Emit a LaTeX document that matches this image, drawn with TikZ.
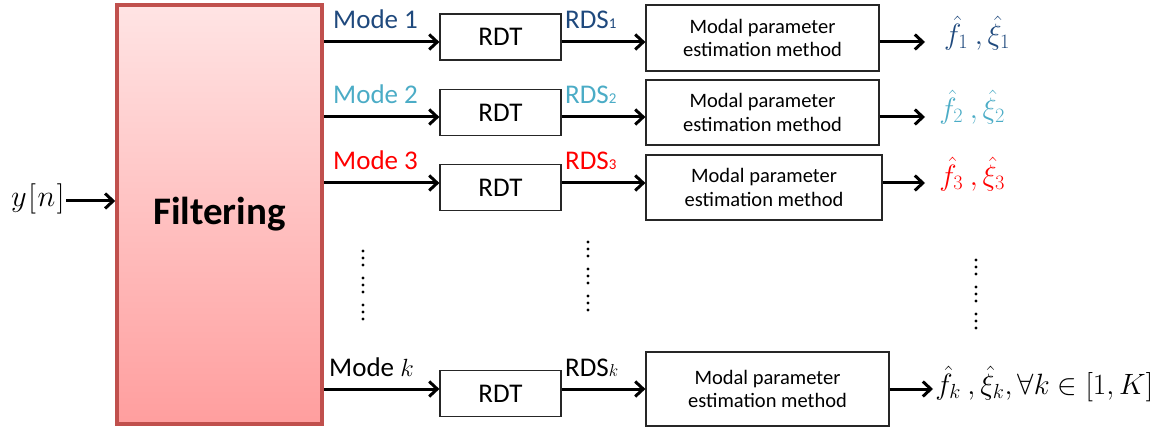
\documentclass[tikz,border=0pt]{standalone}
\usepackage{fontspec}
\setmainfont{Carlito}
\usetikzlibrary{arrows.meta}
\definecolor{dblue}{HTML}{1F497D}
\definecolor{lblue}{HTML}{4BACC6}
\definecolor{mred}{HTML}{FF0000}
\definecolor{fborder}{HTML}{C0504D}
\definecolor{ftop}{HTML}{FFE4E4}
\definecolor{fbot}{HTML}{FF9E9E}
\begin{document}
\begin{tikzpicture}[x=1pt,y=-1pt,
  arr/.style={line width=3pt,-{Straight Barb[length=8pt,width=15pt]}},
  filtbox/.style={draw=fborder,line width=3.5pt,top color=ftop,bottom color=fbot,
    minimum width=205pt,minimum height=419pt,inner sep=0pt,
    font=\fontsize{39}{42}\selectfont\bfseries},
  rdtbox/.style={draw=black!85,line width=1.2pt,minimum width=121pt,minimum height=46pt,
    inner sep=0pt,font=\fontsize{27}{30}\selectfont},
  modalbox/.style={draw=black!85,line width=1.2pt,inner sep=0pt,align=center,
    font=\fontsize{20.5}{23.5}\selectfont},
  lbl/.style={anchor=base west,inner sep=0pt,font=\fontsize{27}{30}\selectfont},
  outlbl/.style={anchor=west,inner sep=0pt,scale=1.18,font=\fontsize{24}{28}\selectfont},
  dot/.style={fill=black}
]
\useasboundingbox (0,0) rectangle (1169,427);

% filtering block
\node[filtbox] (filt) at (219.5,214.5) {Filtering};

% input
\node[anchor=east,inner sep=1pt,scale=1.22,font=\fontsize{24}{28}\selectfont] (yn) at (66,199) {$y\mskip1mu[\mskip1mu n\mskip1mu]$};
\draw[arr] (yn.east |- 0,201) -- (filt.west |- 0,201);

% rows coordinates
\coordinate (r1) at (0,42);
\coordinate (r2) at (0,117);
\coordinate (r3) at (0,183);
\coordinate (rk) at (0,389);

% RDT boxes
\node[rdtbox] (rdt1) at (500.5,37) {RDT};
\node[rdtbox] (rdt2) at (500.5,112.5) {RDT};
\node[rdtbox] (rdt3) at (500.5,187.5) {RDT};
\node[rdtbox] (rdtk) at (500.5,393.5) {RDT};

% modal boxes
\node[modalbox,minimum width=233pt,minimum height=66pt] (mp1) at (762.5,38) {Modal parameter\\estimation method};
\node[modalbox,minimum width=233pt,minimum height=65pt] (mp2) at (762.5,112.5) {Modal parameter\\estimation method};
\node[modalbox,minimum width=236pt,minimum height=65pt] (mp3) at (764,187.5) {Modal parameter\\estimation method};
\node[modalbox,minimum width=243pt,minimum height=74pt] (mpk) at (767.5,389) {Modal parameter\\estimation method};

% mode labels
\node[lbl,text=dblue] (mode1) at (333,29) {Mode 1};
\node[lbl,text=lblue] (mode2) at (333,104) {Mode 2};
\node[lbl,text=mred] (mode3) at (333,170) {Mode 3};
\node[lbl] (modek) at (329,376) {Mode $k$};

% RDS labels
\node[lbl,text=dblue] (rds1) at (565,29) {RDS{\fontsize{15}{17}\selectfont 1}};
\node[lbl,text=lblue] (rds2) at (565,104) {RDS{\fontsize{15}{17}\selectfont 2}};
\node[lbl,text=mred] (rds3) at (565,170) {RDS{\fontsize{15}{17}\selectfont 3}};
\node[lbl] (rdsk) at (565,376) {RDS{\fontsize{17}{17}\selectfont$k$}};

% arrows filtering -> RDT
\draw[arr] (filt.east |- r1) -- (rdt1.west |- r1);
\draw[arr] (filt.east |- r2) -- (rdt2.west |- r2);
\draw[arr] (filt.east |- r3) -- (rdt3.west |- r3);
\draw[arr] (filt.east |- rk) -- (rdtk.west |- rk);

% arrows RDT -> modal
\draw[arr] (rdt1.east |- r1) -- (mp1.west |- r1);
\draw[arr] (rdt2.east |- r2) -- (mp2.west |- r2);
\draw[arr] (rdt3.east |- r3) -- (mp3.west |- r3);
\draw[arr] (rdtk.east |- rk) -- (mpk.west |- rk);

% outputs
\coordinate (o1) at (925,42);
\coordinate (o2) at (925,117);
\coordinate (o3) at (925,183);
\coordinate (ok) at (933,389);
\draw[arr] (mp1.east |- r1) -- (o1);
\draw[arr] (mp2.east |- r2) -- (o2);
\draw[arr] (mp3.east |- r3) -- (o3);
\draw[arr] (mpk.east |- rk) -- (ok);

\node[outlbl,text=dblue] (out1) at (944,33) {$\hat{f}_1\ ,\hat{\xi}_1$};
\node[outlbl,text=lblue] (out2) at (939,107) {$\hat{f}_2\ ,\hat{\xi}_2$};
\node[outlbl,text=mred] (out3) at (939,174) {$\hat{f}_3\ ,\hat{\xi}_3$};
\node[outlbl] (outk) at (935,384) {$\hat{f}_k\ ,\hat{\xi}_k, \forall k\in[1,K]$};

% vertical dots
\foreach \x/\y in {363/251,363/278,363/305,588/242,588/269,588/296,976/260,976/287,976/314}{
  \foreach \d in {0,7,14}{
    \fill[dot] (\x,\y+\d) circle (1.7);
  }
}
\end{tikzpicture}
\end{document}
